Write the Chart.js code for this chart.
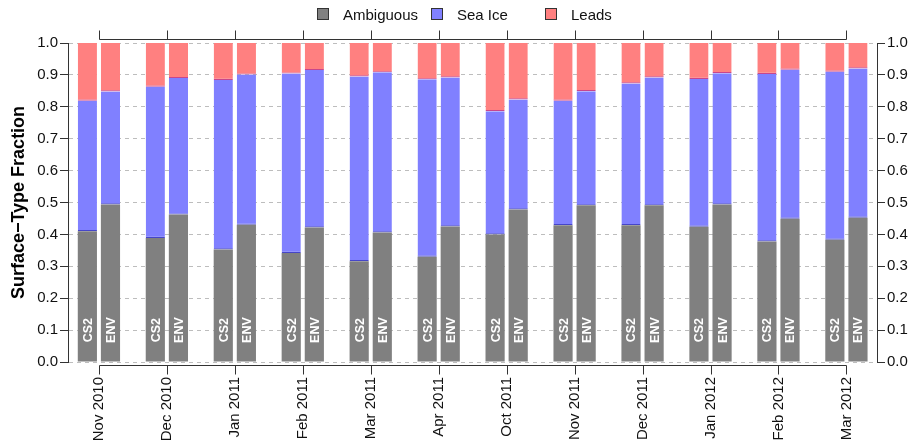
<!DOCTYPE html>
<html>
<head>
<meta charset="utf-8">
<script src="https://cdn.jsdelivr.net/npm/chart.js@4/dist/chart.umd.min.js"></script>
<style>
    body { margin: 0; background: #fff; }
    #wrap { position: relative; width: 909px; height: 446px; }
    #legend { position: absolute; top: 4px; left: 317px; display: flex; font: 15px "Liberation Sans", Arial, sans-serif; color: #111; }
    .item { width: 114px; display: flex; align-items: center; height: 20px; }
    .box { width: 10px; height: 10px; border: 1px solid #333; margin-right: 14px; }
</style>
</head>
<body>
<div id="wrap">
    <canvas id="chart" width="909" height="446"></canvas>
    <div id="legend"></div>
</div>
<script>
const months = ['Nov 2010', 'Dec 2010', 'Jan 2011', 'Feb 2011', 'Mar 2011', 'Apr 2011',
                'Oct 2011', 'Nov 2011', 'Dec 2011', 'Jan 2012', 'Feb 2012', 'Mar 2012'];
const yTicks = [0, 0.1, 0.2, 0.3, 0.4, 0.5, 0.6, 0.7, 0.8, 0.9, 1.0];
const classes = ['Ambiguous', 'Sea Ice', 'Leads'];
const sensors = ['CS2', 'ENV'];

const cs2Ambiguous = [0.410, 0.389, 0.353, 0.342, 0.316, 0.330, 0.400, 0.429, 0.429, 0.424, 0.378, 0.383];
const cs2SeaIce    = [0.409, 0.474, 0.531, 0.562, 0.579, 0.556, 0.386, 0.390, 0.444, 0.463, 0.525, 0.527];
const cs2Leads     = [0.181, 0.137, 0.116, 0.096, 0.105, 0.114, 0.214, 0.181, 0.127, 0.113, 0.097, 0.090];

const envAmbiguous = [0.494, 0.462, 0.430, 0.422, 0.406, 0.425, 0.478, 0.491, 0.491, 0.494, 0.449, 0.452];
const envSeaIce    = [0.354, 0.428, 0.471, 0.493, 0.502, 0.467, 0.345, 0.358, 0.401, 0.411, 0.467, 0.468];
const envLeads     = [0.152, 0.110, 0.099, 0.085, 0.092, 0.108, 0.177, 0.151, 0.108, 0.095, 0.084, 0.080];

const fills = ['#808080', '#8080ff', '#ff8080'];
const edges = ['#808080', '#4646c8', '#c8468c'];
const FONT = '"Liberation Sans", Arial, sans-serif';

document.addEventListener('DOMContentLoaded', () => {
    Chart.defaults.font.family = FONT;
    Chart.defaults.font.size = 15;
    Chart.defaults.color = '#111';

    // html legend, equal columns like the R legend
    const legend = document.getElementById('legend');
    classes.forEach((c, i) => {
        const d = document.createElement('div');
        d.className = 'item';
        d.innerHTML = `<span class="box" style="background:${fills[i]}"></span><span>${c}</span>`;
        legend.appendChild(d);
    });

    const series = { CS2: [cs2Ambiguous, cs2SeaIce, cs2Leads], ENV: [envAmbiguous, envSeaIce, envLeads] };
    const datasets = [];
    sensors.forEach(s => {
        series[s].forEach((vals, k) => {
            datasets.push({
                label: classes[k] + ' ' + s,
                stack: s,
                data: vals.map((v, i) => ({ x: i, y: v })),
                backgroundColor: fills[k],
                borderColor: edges[k],
                borderWidth: k === 0 ? 0 : { top: 0, left: 0, right: 0, bottom: 1.2 },
                borderSkipped: false,
                categoryPercentage: 0.68,
                barPercentage: 0.83
            });
        });
    });

    // R style x axes: line from first to last tick, top and bottom
    const rAxes = {
        id: 'rAxes',
        afterDraw(chart) {
            const { ctx, chartArea, scales: { x } } = chart;
            const x0 = Math.round(x.getPixelForValue(0)) + 0.5;
            const x1 = Math.round(x.getPixelForValue(months.length - 1)) + 0.5;
            ctx.save();
            ctx.strokeStyle = '#333';
            ctx.lineWidth = 1;
            [[chartArea.bottom + 3.5, 9], [chartArea.top - 3.5, -9]].forEach(([y, len]) => {
                ctx.beginPath();
                ctx.moveTo(x0, y);
                ctx.lineTo(x1, y);
                months.forEach((m, i) => {
                    const px = Math.round(x.getPixelForValue(i)) + 0.5;
                    ctx.moveTo(px, y);
                    ctx.lineTo(px, y + len);
                });
                ctx.stroke();
            });
            ctx.restore();
        }
    };

    // CS2 / ENV written inside the grey bars
    const barNames = {
        id: 'barNames',
        afterDatasetsDraw(chart) {
            const { ctx, scales: { y } } = chart;
            const yc = y.getPixelForValue(0.1);
            ctx.save();
            ctx.fillStyle = '#fff';
            ctx.font = 'bold 12.5px ' + FONT;
            ctx.textAlign = 'center';
            ctx.textBaseline = 'middle';
            chart.data.datasets.forEach((ds, di) => {
                if (!ds.label.startsWith('Ambiguous')) return;
                chart.getDatasetMeta(di).data.forEach(bar => {
                    ctx.save();
                    ctx.translate(bar.x, yc);
                    ctx.rotate(-Math.PI / 2);
                    ctx.fillText(ds.stack, 0, 1);
                    ctx.restore();
                });
            });
            ctx.restore();
        }
    };

    const yScale = (pos) => ({
        position: pos,
        stacked: true,
        min: 0,
        max: 1,
        afterBuildTicks: s => { s.ticks = yTicks.map(v => ({ value: v })); },
        afterFit: s => { s.width = pos === 'left' ? 68 : 32; },
        ticks: { padding: 2, callback: v => v.toFixed(1), color: '#111' },
        grid: {
            drawOnChartArea: pos === 'left',
            color: '#bdbdbd',
            tickColor: '#333',
            tickLength: 8,
            tickBorderDash: []
        },
        border: { display: true, color: '#333', dash: [4, 4] }
    });

    new Chart(document.getElementById('chart'), {
        type: 'bar',
        data: { datasets },
        options: {
            responsive: false,
            animation: false,
            layout: { padding: { top: 43, left: 0, right: 0, bottom: 0 } },
            plugins: { legend: { display: false }, tooltip: { enabled: false } },
            scales: {
                x: {
                    type: 'linear',
                    offset: false,
                    bounds: 'data',
                    min: -0.455,
                    max: 11.45,
                    afterBuildTicks: s => { s.ticks = months.map((m, i) => ({ value: i })); },
                    afterFit: s => { s.height = 84; },
                    ticks: {
                        autoSkip: false,
                        minRotation: 90,
                        maxRotation: 90,
                        padding: 15,
                        color: '#111',
                        callback: v => months[v]
                    },
                    grid: { display: false, drawTicks: false, offset: false },
                    border: { display: false }
                },
                y: {
                    ...yScale('left'),
                    title: {
                        display: true,
                        text: 'Surface\u2212Type Fraction',
                        font: { size: 18, weight: 'bold' },
                        color: '#000',
                        padding: { top: 8, bottom: 0 }
                    }
                },
                y2: yScale('right')
            }
        },
        plugins: [rAxes, barNames]
    });
});
</script>
</body>
</html>
